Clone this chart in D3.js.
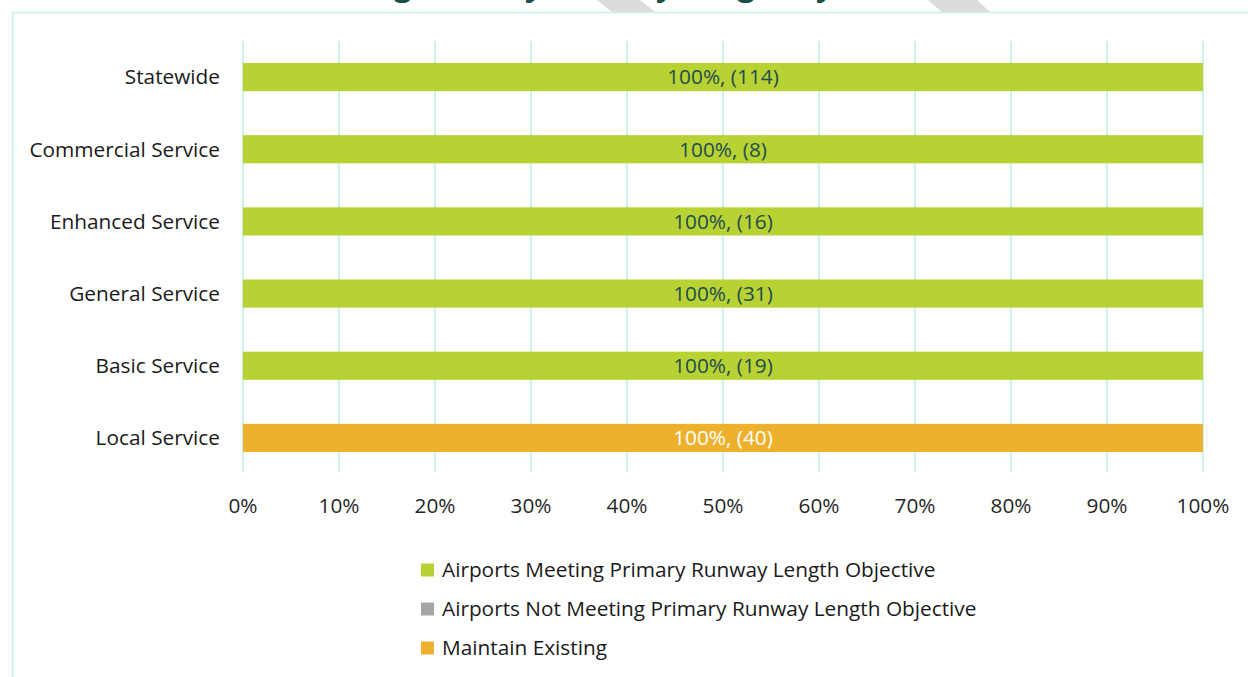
<!DOCTYPE html>
<html>
<head>
<meta charset="utf-8">
<script src="https://cdn.jsdelivr.net/npm/d3@7"></script>
<style>
  body { margin: 0; background: #fff; }
  svg { display: block; font-family: "Open Sans", sans-serif; }
</style>
</head>
<body>
<div id="container"></div>
<script>
const width = 1248;
const height = 677;

const categories = ["Statewide", "Commercial Service", "Enhanced Service", "General Service", "Basic Service", "Local Service"];
const meeting = [100, 100, 100, 100, 100, 0];
const notMeeting = [0, 0, 0, 0, 0, 0];
const maintain = [0, 0, 0, 0, 0, 100];
const counts = [114, 8, 16, 31, 19, 40];
const xTicks = [0, 10, 20, 30, 40, 50, 60, 70, 80, 90, 100];

const seriesNames = [
    "Airports Meeting Primary Runway Length Objective",
    "Airports Not Meeting Primary Runway Length Objective",
    "Maintain Existing"
];
const colors = ["#b8d234", "#a5a5a5", "#edb12e"];
const labelColors = ["#1e4d4b", "#1e4d4b", "#ffffff"];
const fs = 20.8;

const rows = categories.map((c, i) => ({
    cat: c, s0: meeting[i], s1: notMeeting[i], s2: maintain[i], n: counts[i]
}));
const stack = d3.stack().keys(["s0", "s1", "s2"])(rows);

const svg = d3.select("#container")
    .append("svg")
    .attr("width", width)
    .attr("height", height);

// frame
svg.append("rect")
    .attr("x", 12.5).attr("y", 12.5)
    .attr("width", width + 20).attr("height", height + 20)
    .attr("fill", "none")
    .attr("stroke", "#c4f3ea")
    .attr("stroke-width", 1.5);

// title sits above the page edge, only the descenders show
const titleText = "Facilities Meeting Primary Runway Length by Role";
const title = svg.append("text")
    .attr("x", 0).attr("y", -3)
    .attr("font-size", 22)
    .attr("font-weight", "bold")
    .attr("fill", "#1b4f4a")
    .text(titleText);
{
    const node = title.node();
    const gi = titleText.indexOf("Meeting") + 6;
    const yi = titleText.indexOf("by") + 1;
    const a = node.getStartPositionOfChar(gi).x;
    const b = node.getStartPositionOfChar(yi).x;
    const k = (820 - 398) / (b - a);
    const f = 22 * k;
    title.attr("font-size", f).attr("y", 4 - 0.27 * f);
    const a2 = node.getStartPositionOfChar(gi).x;
    title.attr("x", 398 - a2 - 4);
}

// gray stripes at top
svg.append("path").attr("d", "M597,0L640,0L655,12L612,12Z").attr("fill", "#dcdcdc");
svg.append("path").attr("d", "M928,0L977,0L990,12L942,12Z").attr("fill", "#dcdcdc");

const x = d3.scaleLinear().domain([0, 100]).range([243, 1203]);
const y = d3.scaleBand().domain(categories).range([41, 474]).paddingInner(0.61).paddingOuter(0.305);

// grid
svg.append("g")
    .selectAll("line")
    .data(xTicks)
    .enter()
    .append("line")
    .attr("x1", (d) => x(d)).attr("x2", (d) => x(d))
    .attr("y1", 41).attr("y2", 472)
    .attr("stroke", "#c9f3ec")
    .attr("stroke-width", 2);

// bars
stack.forEach((s, si) => {
    svg.append("g")
        .selectAll("rect")
        .data(s.filter((d) => d[1] - d[0] > 0))
        .enter()
        .append("rect")
        .attr("x", (d) => x(d[0]))
        .attr("y", (d) => y(d.data.cat))
        .attr("width", (d) => x(d[1]) - x(d[0]))
        .attr("height", y.bandwidth())
        .attr("fill", colors[si]);
    svg.append("g")
        .selectAll("text")
        .data(s.filter((d) => d[1] - d[0] > 0))
        .enter()
        .append("text")
        .attr("x", (d) => (x(d[0]) + x(d[1])) / 2)
        .attr("y", (d) => y(d.data.cat) + y.bandwidth() / 2)
        .attr("dy", "0.35em")
        .attr("text-anchor", "middle")
        .attr("font-size", fs)
        .attr("fill", labelColors[si])
        .text((d) => `${d[1] - d[0]}%, (${d.data.n})`);
});

// category axis
svg.append("g")
    .selectAll("text")
    .data(categories)
    .enter()
    .append("text")
    .attr("x", 220)
    .attr("y", (d) => y(d) + y.bandwidth() / 2)
    .attr("dy", "0.35em")
    .attr("text-anchor", "end")
    .attr("font-size", fs)
    .attr("fill", "#1a1a1a")
    .text((d) => d);

// x axis
svg.append("g")
    .selectAll("text")
    .data(xTicks)
    .enter()
    .append("text")
    .attr("x", (d) => x(d))
    .attr("y", 506)
    .attr("dy", "0.35em")
    .attr("text-anchor", "middle")
    .attr("font-size", fs)
    .attr("fill", "#262626")
    .text((d) => d + "%");

// legend
const legend = svg.append("g").selectAll("g")
    .data(seriesNames)
    .enter()
    .append("g")
    .attr("transform", (d, i) => `translate(421,${570 + i * 39})`);
legend.append("rect")
    .attr("x", 0).attr("y", -6.5)
    .attr("width", 13).attr("height", 13)
    .attr("fill", (d, i) => colors[i]);
legend.append("text")
    .attr("x", 21).attr("y", 0)
    .attr("dy", "0.35em")
    .attr("font-size", fs)
    .attr("fill", "#1a1a1a")
    .text((d) => d);
</script>
</body>
</html>
